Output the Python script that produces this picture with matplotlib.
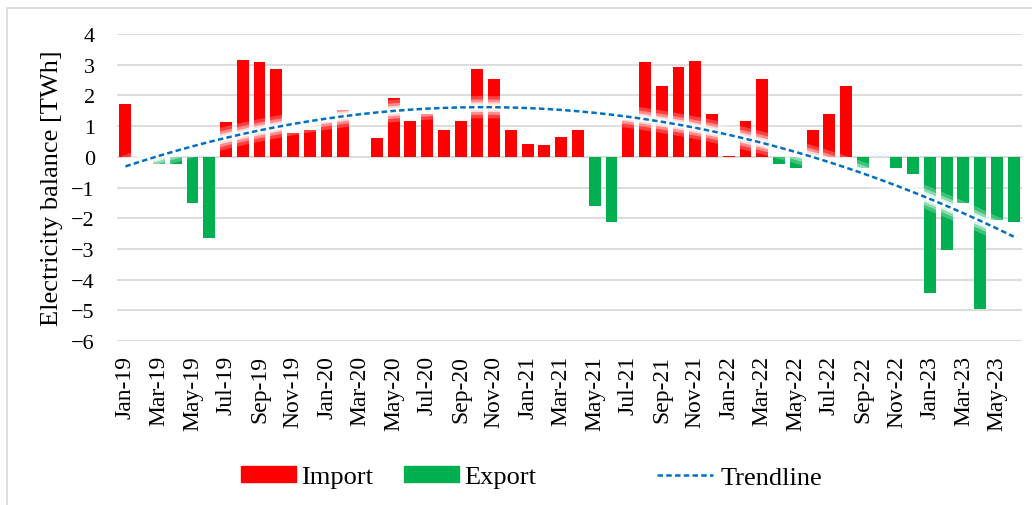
import numpy as np
import matplotlib
matplotlib.use("Agg")
import matplotlib.pyplot as plt
from matplotlib.patches import Rectangle, Patch
from matplotlib.lines import Line2D

plt.rcParams['font.family'] = ['Liberation Serif', 'DejaVu Serif']

# monthly balance Jan-19 .. Jun-23 (TWh), >0 import, <0 export
months = ['Jan', 'Feb', 'Mar', 'Apr', 'May', 'Jun',
          'Jul', 'Aug', 'Sep', 'Oct', 'Nov', 'Dec']
labels = [m + '-' + y for y in ['19', '20', '21', '22', '23'] for m in months][:54]
balance = [1.71, 0.0, -0.22, -0.22, -1.51, -2.63,
           1.12, 3.16, 3.08, 2.85, 0.78, 0.87,
           1.12, 1.53, 0.0, 0.61, 1.93, 1.16,
           1.41, 0.87, 1.16, 2.86, 2.55, 0.87,
           0.43, 0.39, 0.65, 0.87, -1.61, -2.11,
           1.20, 3.09, 2.30, 2.92, 3.13, 1.41,
           0.03, 1.16, 2.55, -0.22, -0.37, 0.87,
           1.39, 2.30, -0.35, -0.02, -0.37, -0.55,
           -4.43, -3.03, -1.52, -4.97, -2.05, -2.13]

x = np.arange(len(balance))
bal = np.array(balance)
imp = np.where(bal > 0, bal, 0)
exp_ = np.where(bal < 0, bal, 0)

# polynomial trendline (order 2) like the spreadsheet one
coef = np.polyfit(x, bal, 2)
trend = np.polyval(coef, x)

red = '#FF0000'
green = '#00B050'
blue = '#0070C0'

fig = plt.figure(figsize=(10.32, 5.06), dpi=100)
ax = fig.add_axes([0.1134, 0.3241, 0.877, 0.6067])

ax.bar(x, imp, width=0.71, color=red, zorder=2)
ax.bar(x, exp_, width=0.71, color=green, zorder=2)

# soft white glow under the dashed trendline
for lw, a in [(16, 0.25), (11, 0.4), (7, 0.7), (4, 0.95)]:
    ax.plot(x, trend, color='white', lw=lw, alpha=a, zorder=3, solid_capstyle='butt')
ax.plot(x, trend, color=blue, lw=1.8, ls=(0, (2.2, 1.3)), zorder=4)

ax.set_xlim(-0.5, len(balance) - 0.5)
ax.set_ylim(-6, 4)
ax.set_yticks(range(-6, 5))
ax.set_xticks(x[::2])
ax.set_xticklabels(labels[::2], rotation=90, fontsize=17)
ax.tick_params(axis='x', length=0, pad=10)
ax.tick_params(axis='y', length=0, pad=16, labelsize=16)
ax.yaxis.grid(True, color='#D9D9D9', lw=1.3, zorder=0)
ax.set_axisbelow(True)
for s in ax.spines.values():
    s.set_visible(False)
ax.set_ylabel('Electricity balance [TWh]', fontsize=19, labelpad=6)

# legend entries placed separately, spaced like the original
fs = 19
fig.legend(handles=[Patch(color=red, label='Import')], loc='center',
           bbox_to_anchor=(307 / 1032, 1 - 478 / 506), frameon=False,
           fontsize=fs, handlelength=2.1, handleheight=0.55, handletextpad=0.2)
fig.legend(handles=[Patch(color=green, label='Export')], loc='center',
           bbox_to_anchor=(470 / 1032, 1 - 478 / 506), frameon=False,
           fontsize=fs, handlelength=2.1, handleheight=0.55, handletextpad=0.2)
fig.legend(handles=[Line2D([], [], color=blue, lw=1.8, ls=(0, (2.2, 1.3)), label='Trendline')],
           loc='center', bbox_to_anchor=(740 / 1032, 1 - 478 / 506), frameon=False,
           fontsize=fs, handlelength=2.1, handletextpad=0.3)

# chart area border
fig.add_artist(Rectangle((7 / 1032, -0.05), 1.1, 1 - 9 / 506 + 0.05,
                         transform=fig.transFigure, fill=False,
                         edgecolor='#D9D9D9', lw=1.2))

fig.savefig('out.png', dpi=100)
